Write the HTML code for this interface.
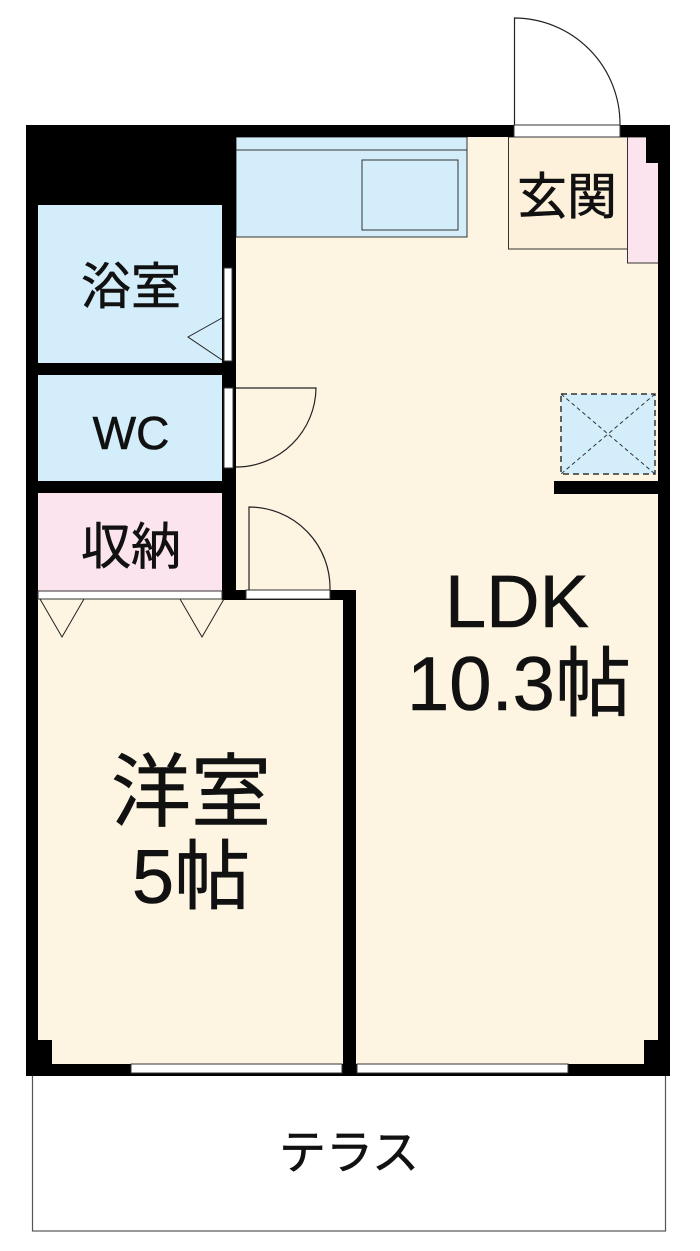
<!DOCTYPE html>
<html><head><meta charset="utf-8"><style>
html,body{margin:0;padding:0;background:#fff;}
svg{display:block;}
text{font-family:"Liberation Sans","Noto Sans CJK JP",sans-serif;fill:#111;text-anchor:middle;stroke:#111;stroke-width:0.6;}
</style></head><body>
<svg width="700" height="1251" viewBox="0 0 700 1251" xmlns="http://www.w3.org/2000/svg">
<rect x="32.5" y="1070" width="633" height="161" fill="#fff" stroke="#555" stroke-width="1.2"/>
<rect x="26" y="125" width="644" height="951" fill="#fdf5e2"/>
<rect x="38" y="205" width="186" height="158" fill="#d3eefa"/>
<rect x="38" y="375" width="186" height="106" fill="#d3eefa"/>
<rect x="38" y="493" width="186" height="98" fill="#fce4ee"/>
<rect x="236" y="137" width="231" height="100" fill="#d3eefa" stroke="#333" stroke-width="1"/>
<line x1="236" y1="150" x2="467" y2="150" stroke="#333" stroke-width="1"/>
<rect x="362" y="160" width="96" height="70" fill="#d3eefa" stroke="#333" stroke-width="1"/>
<rect x="508.5" y="137" width="119" height="112" fill="#fdf1dc" stroke="#333" stroke-width="1"/>
<rect x="627.5" y="137" width="31" height="126" fill="#fce4ee" stroke="#333" stroke-width="1"/>
<rect x="646" y="137" width="13" height="26" fill="#000"/>
<rect x="514" y="125" width="106" height="8" fill="#fff" stroke="#333" stroke-width="1"/>
<path d="M514.5 125 V18 A106 106 0 0 1 620 125" fill="none" stroke="#222" stroke-width="1.2"/>
<rect x="26" y="125" width="644" height="12" fill="#000"/>
<rect x="26" y="125" width="210" height="80" fill="#000"/>
<rect x="26" y="125" width="12" height="951" fill="#000"/>
<rect x="658" y="125" width="12" height="951" fill="#000"/>
<rect x="26" y="1064" width="644" height="12" fill="#000"/>
<rect x="26" y="1040" width="26" height="36" fill="#000"/>
<rect x="644" y="1040" width="26" height="36" fill="#000"/>
<rect x="514" y="125" width="106" height="12" fill="#fff" stroke="#333" stroke-width="1"/>
<rect x="131" y="1064" width="211" height="9" fill="#fff" stroke="#333" stroke-width="1"/>
<rect x="357" y="1064" width="211" height="9" fill="#fff" stroke="#333" stroke-width="1"/>
<rect x="222" y="125" width="14" height="475" fill="#000"/>
<rect x="38" y="363" width="198" height="12" fill="#000"/>
<rect x="38" y="481" width="198" height="12" fill="#000"/>
<rect x="343" y="590" width="13" height="486" fill="#000"/>
<rect x="236" y="590" width="120" height="10" fill="#000"/>
<rect x="554" y="481" width="106" height="13" fill="#000"/>
<rect x="224" y="268" width="8" height="93" fill="#fff" stroke="#333" stroke-width="1"/>
<path d="M222 318 L188 337 L222 360" fill="none" stroke="#222" stroke-width="1"/>
<rect x="224" y="388" width="9" height="80" fill="#fff" stroke="#333" stroke-width="1"/>
<path d="M236 467 A80 80 0 0 0 316 388 H236" fill="none" stroke="#222" stroke-width="1.2"/>
<rect x="246" y="590" width="84" height="9" fill="#fff" stroke="#333" stroke-width="1"/>
<path d="M249 590 V507 A81 81 0 0 1 330 590" fill="none" stroke="#222" stroke-width="1.2"/>
<rect x="38" y="591" width="184" height="8" fill="#fff" stroke="#333" stroke-width="1"/>
<path d="M40 599 L62 637 L84 599 M180 599 L202 637 L224 599" fill="none" stroke="#222" stroke-width="1"/>
<rect x="561" y="394" width="94" height="80" fill="#d3eefa" stroke="#333" stroke-width="1.5" stroke-dasharray="6,4"/>
<path d="M561 394 L655 474 M655 394 L561 474" stroke="#333" stroke-width="1" stroke-dasharray="4,3"/>
<text x="131" y="304" font-size="50">浴室</text>
<text x="131" y="449" font-size="46">WC</text>
<text x="131" y="564" font-size="50">収納</text>
<text x="567" y="214" font-size="50">玄関</text>
<text x="517" y="627" font-size="74">LDK</text>
<text x="519" y="710" font-size="76">10.3帖</text>
<text x="191" y="820" font-size="80">洋室</text>
<text x="191" y="903" font-size="76">5帖</text>
<text x="349" y="1169" font-size="47">テラス</text>
</svg>
</body></html>
